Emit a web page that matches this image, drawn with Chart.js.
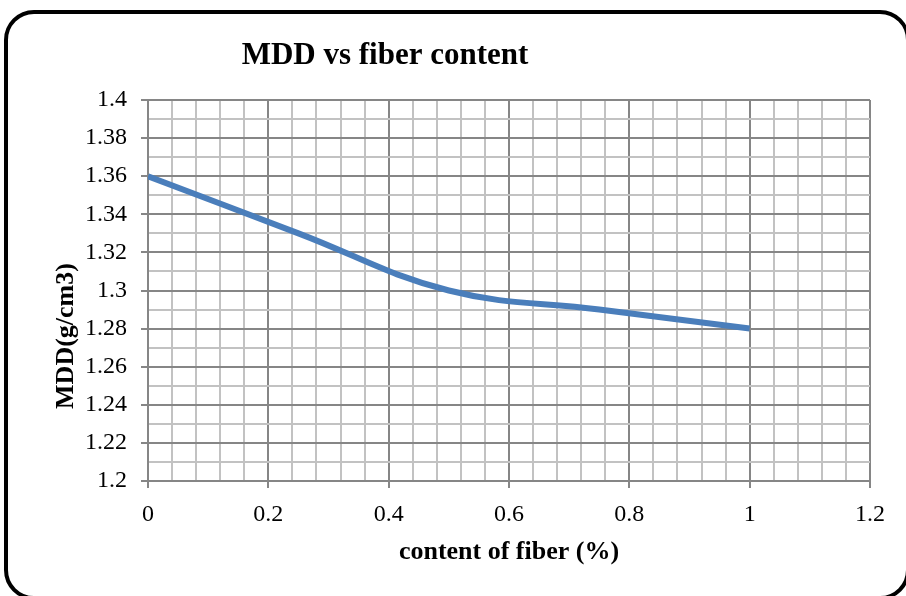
<!DOCTYPE html>
<html>
<head>
<meta charset="utf-8">
<title>MDD vs fiber content</title>
<script src="https://cdn.jsdelivr.net/npm/chart.js@4.4.1/dist/chart.umd.min.js"></script>
<style>
  html, body { margin: 0; padding: 0; background: #ffffff; overflow: hidden; }
  #wrap { position: relative; width: 906px; height: 596px; }
  #chart { position: absolute; left: 0; top: 0; }
  #frame {
    position: absolute; left: 4px; top: 10px; width: 906px; height: 590px;
    box-sizing: border-box; border: 4px solid #000; border-radius: 30px;
    pointer-events: none;
  }
</style>
</head>
<body>
<div id="wrap">
  <canvas id="chart" width="906" height="596"></canvas>
  <div id="frame"></div>
</div>
<script>
// Fiber content (%) and maximum dry density (g/cm3)
const fiberContent = [0, 0.25, 0.5, 0.75, 1];
const mddValues = [1.36, 1.33, 1.30, 1.29, 1.28];

// Labels shown on the major ticks
const xTickLabels = ['0', '0.2', '0.4', '0.6', '0.8', '1', '1.2'];
const yTickLabels = ['1.2', '1.22', '1.24', '1.26', '1.28', '1.3', '1.32', '1.34', '1.36', '1.38', '1.4'];

const chartTitle = 'MDD vs fiber content';
const xTitle = 'content of fiber (%)';
const yTitle = 'MDD(g/cm3)';

const SERIF = '"Liberation Serif", "Times New Roman", serif';
const MAJOR = '#868686';
const MINOR = '#c2c2c2';

const X_MINOR_PER_MAJOR = 5;  // 0.04 steps between 0.2 labels
const Y_MINOR_PER_MAJOR = 2;  // 0.01 steps between 0.02 labels

const points = fiberContent.map((x, i) => ({ x: x, y: mddValues[i] }));

// Chart title and rotated y-axis title
const titlesPlugin = {
  id: 'titles',
  afterDraw(chart) {
    const ctx = chart.ctx;
    ctx.save();
    ctx.fillStyle = '#000';
    ctx.textAlign = 'center';
    ctx.textBaseline = 'middle';
    ctx.font = 'bold 31px ' + SERIF;
    ctx.fillText(chartTitle, 385, 56);
    ctx.translate(66, 336);
    ctx.rotate(-Math.PI / 2);
    ctx.font = 'bold 26px ' + SERIF;
    ctx.fillText(yTitle, 0, 0);
    ctx.restore();
  }
};

new Chart(document.getElementById('chart'), {
  type: 'line',
  data: {
    datasets: [{
      data: points,
      borderColor: '#4a7ebb',
      borderWidth: 6,
      pointRadius: 0,
      tension: 0.4,
      fill: false,
      borderCapStyle: 'butt'
    }]
  },
  options: {
    responsive: false,
    animation: false,
    layout: { padding: { top: 100, right: 36, left: 0, bottom: 0 } },
    plugins: { legend: { display: false }, tooltip: { enabled: false } },
    scales: {
      x: {
        type: 'linear',
        min: 0,
        max: 1.2,
        afterFit(scale) { scale.height = 115; },
        ticks: {
          stepSize: 0.04,
          autoSkip: false,
          maxRotation: 0,
          padding: 12,
          color: '#000',
          font: { family: SERIF, size: 24 },
          callback: (v, i) => (i % X_MINOR_PER_MAJOR === 0 ? xTickLabels[i / X_MINOR_PER_MAJOR] : '')
        },
        grid: {
          color: c => (c.index % X_MINOR_PER_MAJOR === 0 ? MAJOR : MINOR),
          lineWidth: 2,
          tickLength: 7,
          tickColor: c => (c.index % X_MINOR_PER_MAJOR === 0 ? MAJOR : 'rgba(0,0,0,0)')
        },
        border: { color: MAJOR, width: 2 },
        title: {
          display: true,
          text: xTitle,
          color: '#000',
          font: { family: SERIF, size: 26, weight: 'bold' },
          padding: { top: 0, bottom: 28 }
        }
      },
      y: {
        type: 'linear',
        min: 1.2,
        max: 1.4,
        afterFit(scale) { scale.width = 148; },
        ticks: {
          stepSize: 0.01,
          autoSkip: false,
          padding: 14,
          color: '#000',
          font: { family: SERIF, size: 24 },
          callback: (v, i) => (i % Y_MINOR_PER_MAJOR === 0 ? yTickLabels[i / Y_MINOR_PER_MAJOR] : '')
        },
        grid: {
          color: c => (c.index % Y_MINOR_PER_MAJOR === 0 ? MAJOR : MINOR),
          lineWidth: 2,
          tickLength: 7,
          tickColor: c => (c.index % Y_MINOR_PER_MAJOR === 0 ? MAJOR : 'rgba(0,0,0,0)')
        },
        border: { color: MAJOR, width: 2 }
      }
    }
  },
  plugins: [titlesPlugin]
});
</script>
</body>
</html>
